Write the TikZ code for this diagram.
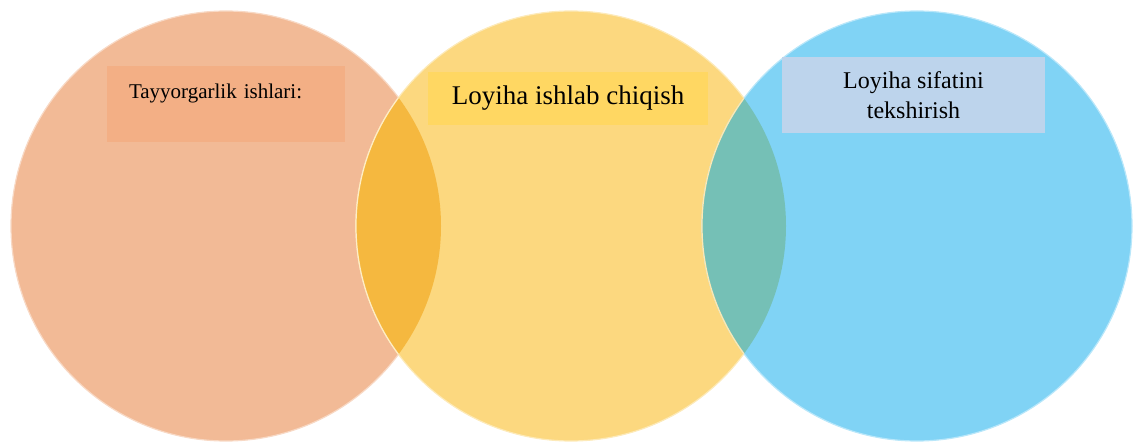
\documentclass[tikz,border=0pt]{standalone}
\usepackage{fontspec}
\setmainfont{Liberation Serif}
\usetikzlibrary{positioning}

\definecolor{prepfill}{HTML}{F2BA96}
\definecolor{prepbox}{HTML}{F3AF85}
\definecolor{devfill}{HTML}{FCD87F}
\definecolor{devbox}{HTML}{FFD762}
\definecolor{checkfill}{HTML}{80D3F5}
\definecolor{checkbox}{HTML}{BDD4EC}
\definecolor{lensleft}{HTML}{F5B83F}
\definecolor{lensright}{HTML}{75C0B6}

\begin{document}
\begin{tikzpicture}[
        x=1pt, y=1pt,
        stage/.style={circle, minimum size=430pt, inner sep=0pt, fill=#1, draw=#1!55!white, line width=1.2pt},
        title/.style={rectangle, inner sep=0pt, text=black, align=center}
    ]
    \useasboundingbox (0,0) rectangle (1136,445);

    % the three stages
    \node (prep) [stage=prepfill] at (226,219) {};
    \node (dev) [stage=devfill] at (571,219) {};
    \node (check) [stage=checkfill] at (917,219) {};

    % overlaps
    \begin{scope}
        \clip (prep.center) circle[radius=215];
        \fill [lensleft, draw=devfill!45!white, line width=1.2pt] (dev.center) circle[radius=215];
    \end{scope}
    \begin{scope}
        \clip (dev.center) circle[radius=215];
        \fill [lensright, draw=devfill!60!white, line width=1.2pt] (check.center) circle[radius=215];
    \end{scope}

    % titles
    \node (preptitle) [title, fill=prepbox, minimum width=238pt, minimum height=76pt, text width=194pt, align=left, font=\fontsize{21}{26}\selectfont] at (226,341) {Tayyorgarlik ishlari:\\ \mbox{}};
    \node (devtitle) [title, fill=devbox, minimum width=280pt, minimum height=53pt, font=\fontsize{27}{32}\selectfont] at (568,346.5) {Loyiha ishlab chiqish};
    \node (checktitle) [title, fill=checkbox, minimum width=263pt, minimum height=76pt, font=\fontsize{24}{30}\selectfont] at (913.5,350) {Loyiha sifatini\\tekshirish};
\end{tikzpicture}
\end{document}
